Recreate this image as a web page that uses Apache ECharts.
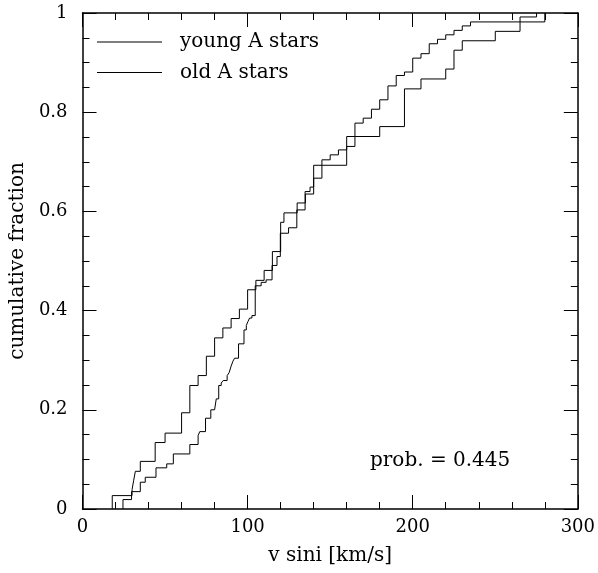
<!DOCTYPE html>
<html>
<head>
<meta charset="utf-8">
<script src="https://cdn.jsdelivr.net/npm/echarts@6/dist/echarts.min.js"></script>
<style>
html,body{margin:0;padding:0;background:#fff;}
#chart{width:598px;height:573px;}
</style>
</head>
<body>
<div id="chart"></div>
<script>
// Young A stars: vsini values (km/s) and cumulative fraction after each step
const youngV = [18, 30, 31, 32, 35, 44, 50, 60, 65, 70, 75, 80, 85, 90, 95, 100, 105, 110, 115, 120,
                122, 130, 135, 140, 160, 180, 195, 205, 220, 225, 230, 250, 265, 275];
const youngF = [0.027, 0.039, 0.058, 0.076, 0.096, 0.134, 0.153, 0.194, 0.249, 0.269, 0.308, 0.345, 0.365, 0.384, 0.403, 0.442, 0.461, 0.481, 0.519, 0.578,
                0.597, 0.617, 0.635, 0.693, 0.751, 0.771, 0.847, 0.867, 0.887, 0.925, 0.944, 0.963, 0.992, 1.0];
// Old A stars
const oldV = [24.5, 29.7, 35, 38, 44.5, 51, 55, 65, 70, 71, 74.5, 77.7, 80, 81, 82.5, 84, 85.2, 87.6, 88.8, 90,
              91.1, 92.1, 94.5, 97.8, 99.2, 100.2, 101.2, 102.6, 104.6, 108.2, 111.2, 114.8, 117.8, 119.8, 124.8, 129.8, 134.8, 137.8, 140, 145,
              150, 155, 160, 165, 170, 175, 180, 185, 190, 195, 200, 205, 210, 215, 220, 225, 230, 235, 280];
const oldF = [0.019, 0.035, 0.054, 0.064, 0.083, 0.091, 0.111, 0.130, 0.148, 0.156, 0.183, 0.200, 0.204, 0.222, 0.249, 0.254, 0.259, 0.269, 0.275, 0.288,
              0.298, 0.304, 0.333, 0.361, 0.370, 0.378, 0.385, 0.390, 0.450, 0.457, 0.462, 0.491, 0.509, 0.556, 0.567, 0.603, 0.640, 0.649, 0.667, 0.704,
              0.714, 0.724, 0.731, 0.778, 0.788, 0.806, 0.825, 0.853, 0.874, 0.881, 0.909, 0.918, 0.938, 0.947, 0.956, 0.965, 0.974, 0.982, 1.0];
const seriesNames = ['young A stars', 'old A stars'];
const probText = 'prob. = 0.445';
const xName = 'v sini [km/s]';
const yName = 'cumulative fraction';

function cdf(v, f) {
  const d = [[v[0], 0]];
  for (let i = 0; i < v.length; i++) d.push([v[i], f[i]]);
  return d;
}

const FONT = 'DejaVu Serif';
const chart = echarts.init(document.getElementById('chart'), null, {renderer: 'canvas'});

const baseAxis = {
  axisLine: {show: true, onZero: false, lineStyle: {color: '#000', width: 1.5}},
  axisTick: {show: true, inside: true, length: 14, lineStyle: {color: '#000', width: 1}},
  minorTick: {show: true, length: 7, lineStyle: {color: '#000', width: 1}},
  splitLine: {show: false},
  minorSplitLine: {show: false}
};

const option = {
  animation: false,
  color: ['#000', '#000'],
  grid: {left: 81, right: 19, top: 13, bottom: 64},
  legend: {
    show: true,
    orient: 'vertical',
    left: 97, top: 32,
    padding: 0,
    icon: 'rect',
    itemWidth: 65, itemHeight: 1,
    itemGap: 10.5,
    selectedMode: false,
    data: seriesNames,
    textStyle: {fontFamily: FONT, fontSize: 20, color: '#000', lineHeight: 20, padding: [0, 0, 0, 13]}
  },
  xAxis: [
    Object.assign({}, baseAxis, {
      type: 'value', min: 0, max: 300, interval: 100, position: 'bottom',
      minorTick: Object.assign({}, baseAxis.minorTick, {splitNumber: 5}),
      axisLabel: {fontFamily: FONT, fontSize: 18, color: '#000', margin: 9},
      name: xName, nameLocation: 'middle', nameGap: 37,
      nameTextStyle: {fontFamily: FONT, fontSize: 20, color: '#000'}
    }),
    Object.assign({}, baseAxis, {
      type: 'value', min: 0, max: 300, interval: 100, position: 'top',
      minorTick: Object.assign({}, baseAxis.minorTick, {splitNumber: 5}),
      axisLabel: {show: false}
    })
  ],
  yAxis: [
    Object.assign({}, baseAxis, {
      type: 'value', min: 0, max: 1, interval: 0.2, position: 'left',
      minorTick: Object.assign({}, baseAxis.minorTick, {splitNumber: 4}),
      axisLabel: {fontFamily: FONT, fontSize: 18, color: '#000', margin: 15,
                  formatter: v => (v === 0 || v === 1) ? String(v) : v.toFixed(1)},
      name: yName, nameLocation: 'middle', nameGap: 48, nameRotate: 90,
      nameTextStyle: {fontFamily: FONT, fontSize: 20, color: '#000'}
    }),
    Object.assign({}, baseAxis, {
      type: 'value', min: 0, max: 1, interval: 0.2, position: 'right',
      minorTick: Object.assign({}, baseAxis.minorTick, {splitNumber: 4}),
      axisLabel: {show: false}
    })
  ],
  graphic: [{
    type: 'text', left: 370, top: 451,
    style: {text: probText, fontFamily: FONT, fontSize: 20, fill: '#000'}
  }],
  series: [
    {name: seriesNames[0], type: 'line', step: 'end', xAxisIndex: 0, yAxisIndex: 0,
     data: cdf(youngV, youngF), showSymbol: false, symbol: 'none',
     lineStyle: {color: '#000', width: 1}, itemStyle: {color: '#000'}},
    {name: seriesNames[1], type: 'line', step: 'end', xAxisIndex: 0, yAxisIndex: 0,
     data: cdf(oldV, oldF), showSymbol: false, symbol: 'none',
     lineStyle: {color: '#000', width: 1}, itemStyle: {color: '#000'}}
  ]
};
chart.setOption(option);
</script>
</body>
</html>
